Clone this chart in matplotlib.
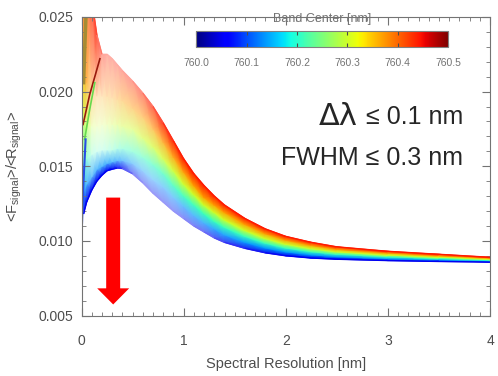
import numpy as np
import matplotlib
matplotlib.use('Agg')
import matplotlib.pyplot as plt
import matplotlib.colors as mcolors
from matplotlib.collections import LineCollection
from matplotlib.ticker import MultipleLocator, FormatStrFormatter

plt.rcParams['font.family'] = ['Liberation Sans', 'DejaVu Sans']
plt.rcParams['mathtext.fontset'] = 'custom'
plt.rcParams['mathtext.rm'] = 'Liberation Sans'
plt.rcParams['mathtext.it'] = 'Liberation Sans:italic'

# spectral resolution grid [nm]
resolution = [0.02, 0.05, 0.1, 0.15, 0.2, 0.25, 0.3, 0.35, 0.4, 0.5, 0.6, 0.7, 0.8, 0.9,
              1.0, 1.1, 1.2, 1.3, 1.4, 1.6, 1.8, 2.0, 2.25, 2.5, 3.0, 3.5, 4.0]

band_centers = [760.0, 760.1, 760.2, 760.3, 760.4, 760.5]

# <F_signal>/<R_signal> for each band center
ratio_7600 = [0.0118, 0.0126, 0.0134, 0.0140, 0.0144, 0.0147, 0.0148, 0.01488, 0.01485, 0.0145,
              0.0139, 0.0132, 0.0126, 0.0120, 0.0115, 0.0110, 0.0106, 0.0102, 0.0099, 0.0095,
              0.0092, 0.0090, 0.00885, 0.00877, 0.00868, 0.00862, 0.00858]
ratio_7601 = [0.0133, 0.0138, 0.0143, 0.0148, 0.0150, 0.0152, 0.0153, 0.0154, 0.0154, 0.0152,
              0.0147, 0.0141, 0.0136, 0.0129, 0.0123, 0.0117, 0.0112, 0.0108, 0.0104, 0.0099,
              0.00952, 0.00926, 0.00906, 0.00894, 0.0088, 0.00872, 0.00864]
ratio_7602 = [0.0150, 0.0155, 0.0158, 0.0160, 0.0161, 0.0161, 0.0161, 0.0162, 0.0162, 0.0160,
              0.0156, 0.0151, 0.0145, 0.0137, 0.0130, 0.0124, 0.0118, 0.0113, 0.0109, 0.0103,
              0.00984, 0.00952, 0.00927, 0.0091, 0.00893, 0.00881, 0.00871]
ratio_7603 = [0.0185, 0.0180, 0.0177, 0.0177, 0.0178, 0.0178, 0.0178, 0.0178, 0.0177, 0.0175,
              0.0169, 0.0163, 0.0155, 0.0147, 0.0138, 0.0131, 0.0124, 0.0119, 0.0114, 0.0107,
              0.01016, 0.00978, 0.00948, 0.00927, 0.00905, 0.00891, 0.00877]
ratio_7604 = [0.0215, 0.0206, 0.0199, 0.0197, 0.0197, 0.0197, 0.0196, 0.0195, 0.0194, 0.0189,
              0.0183, 0.0175, 0.0166, 0.0156, 0.0146, 0.0137, 0.0129, 0.0124, 0.0119, 0.0111,
              0.01048, 0.01004, 0.00969, 0.00943, 0.00918, 0.0090, 0.00884]
ratio_7605 = [0.0330, 0.0310, 0.0262, 0.0238, 0.0225, 0.0225, 0.0222, 0.0218, 0.0214, 0.0207,
              0.0199, 0.0190, 0.0179, 0.0167, 0.0155, 0.0145, 0.0137, 0.0130, 0.0124, 0.0115,
              0.0108, 0.0103, 0.0099, 0.0096, 0.0093, 0.0091, 0.0089]

# messy curves close to zero resolution
tail_darkred_x = [0.015, 0.08, 0.18]
tail_darkred_y = [0.0178, 0.0198, 0.0222]
tail_olive_x = [0.02, 0.035, 0.05]
tail_olive_y = [0.0206, 0.0235, 0.0262]
tail_green_x = [0.03, 0.08, 0.13]
tail_green_y = [0.0168, 0.0188, 0.0206]
tail_blue_x = [0.005, 0.02, 0.04]
tail_blue_y = [0.0112, 0.0140, 0.0168]

# fading toward white (look of the original rendering)
fade = np.array([
    [0, 0, 0, 0, 0, 0, 0, 0.1, 0.25, 0.5, 0.6, 0.6, 0.6, 0.6, 0.55, 0.5, 0.45, 0.35, 0.25, 0.12, 0.05, 0, 0, 0, 0, 0, 0],
    [0.2, 0.3, 0.4, 0.35, 0.3, 0.3, 0.35, 0.4, 0.45, 0.55, 0.6, 0.6, 0.55, 0.5, 0.4, 0.35, 0.3, 0.2, 0.15, 0.05, 0, 0, 0, 0, 0, 0, 0],
    [0.3, 0.5, 0.75, 0.8, 0.8, 0.75, 0.7, 0.65, 0.6, 0.55, 0.5, 0.4, 0.3, 0.2, 0.1, 0.05, 0, 0, 0, 0, 0, 0, 0, 0, 0, 0, 0],
    [0.2, 0.4, 0.75, 0.8, 0.8, 0.75, 0.7, 0.65, 0.6, 0.55, 0.45, 0.35, 0.25, 0.12, 0.05, 0, 0, 0, 0, 0, 0, 0, 0, 0, 0, 0, 0],
    [0.1, 0.3, 0.65, 0.75, 0.75, 0.7, 0.7, 0.65, 0.6, 0.55, 0.5, 0.4, 0.25, 0.12, 0.05, 0, 0, 0, 0, 0, 0, 0, 0, 0, 0, 0, 0],
    [0.3, 0.3, 0.2, 0.2, 0.6, 0.65, 0.65, 0.65, 0.62, 0.58, 0.48, 0.32, 0.15, 0.05, 0, 0, 0, 0, 0, 0, 0, 0, 0, 0, 0, 0, 0],
])
cmap_pos = [0.1, 0.27, 0.42, 0.6, 0.74, 0.88]

fig = plt.figure(figsize=(4.98, 3.76), dpi=100)
ax = fig.add_axes([0.1637, 0.1609, 0.8203, 0.7939])

X = np.tile(np.array(resolution), (len(band_centers), 1))
Y = np.array([ratio_7600, ratio_7601, ratio_7602, ratio_7603, ratio_7604, ratio_7605])
jet = plt.get_cmap('jet')
base = jet(cmap_pos)[:, :3]
C = base[:, None, :] * (1 - fade[..., None]) + fade[..., None]
ax.pcolormesh(X, Y, C, shading='gouraud', zorder=1)

# crisp outer curves
for i in (0, 5):
    pts = np.column_stack([resolution, Y[i]])
    segs = np.stack([pts[:-1], pts[1:]], axis=1)
    seg_cols = (C[i][:-1] + C[i][1:]) / 2
    ax.add_collection(LineCollection(segs, colors=seg_cols, linewidths=1.0, zorder=2))

ax.plot(tail_darkred_x, tail_darkred_y, color=(0.6, 0.1, 0.05), lw=1.2, zorder=2)
ax.plot(tail_olive_x, tail_olive_y, color=(0.65, 0.55, 0.2), lw=2.5, zorder=2)
ax.plot(tail_green_x, tail_green_y, color=(0.4, 0.85, 0.3), lw=1.2, zorder=2)
ax.plot(tail_blue_x, tail_blue_y, color=(0.15, 0.3, 0.9), lw=1.5, zorder=2)

# red arrow
ax.arrow(0.31, 0.0129, 0, -0.00716, width=0.137, head_width=0.313, head_length=0.00108,
         length_includes_head=True, color='red', lw=0, zorder=5)

ax.set_xlim(0, 4)
ax.set_ylim(0.005, 0.025)
ax.xaxis.set_major_locator(MultipleLocator(1))
ax.xaxis.set_minor_locator(MultipleLocator(0.1))
ax.yaxis.set_major_locator(MultipleLocator(0.005))
ax.yaxis.set_minor_locator(MultipleLocator(0.001))
ax.yaxis.set_major_formatter(FormatStrFormatter('%.3f'))
ax.tick_params(which='both', direction='in', top=True, right=True, color='0.45')
ax.tick_params(which='major', length=6, labelsize=10, labelcolor='0.3')
ax.tick_params(which='minor', length=3)
ax.tick_params(axis='x', pad=13)
ax.tick_params(axis='y', pad=6)
for s in ax.spines.values():
    s.set_color('0.45')

ax.set_xlabel('Spectral Resolution [nm]', fontsize=10.5, color='0.3')
ax.xaxis.set_label_coords(0.5, -0.139)
ax.set_ylabel('<F$_{\\mathrm{signal}}$>/<R$_{\\mathrm{signal}}$>', fontsize=10.5, color='0.3')
ax.yaxis.set_label_coords(-0.140, 0.5)

fig.text(0.680, 0.689, 'Δλ', ha='center', va='center', fontsize=22,
         family=['DejaVu Sans'], color='0.15')
fig.text(0.930, 0.689, '≤ 0.1 nm', ha='right', va='center', fontsize=18, color='0.15')
fig.text(0.930, 0.580, 'FWHM ≤ 0.3 nm', ha='right', va='center', fontsize=18, color='0.15')

# colorbar
cax = fig.add_axes([0.394, 0.875, 0.506, 0.043])
norm = mcolors.Normalize(760.0, 760.5)
cb = fig.colorbar(plt.cm.ScalarMappable(norm=norm, cmap=jet), cax=cax, orientation='horizontal')
cb.set_ticks(band_centers)
cb.set_ticklabels(['%.1f' % b for b in band_centers])
cax.tick_params(direction='in', top=True, bottom=True, length=3, color='0.3',
                labelsize=7.5, labelcolor='0.45', pad=8)
cb.outline.set_edgecolor('0.5')
cax.set_title('Band Center [nm]', fontsize=9, color='0.45', pad=6)

fig.savefig('out.png', dpi=100)
